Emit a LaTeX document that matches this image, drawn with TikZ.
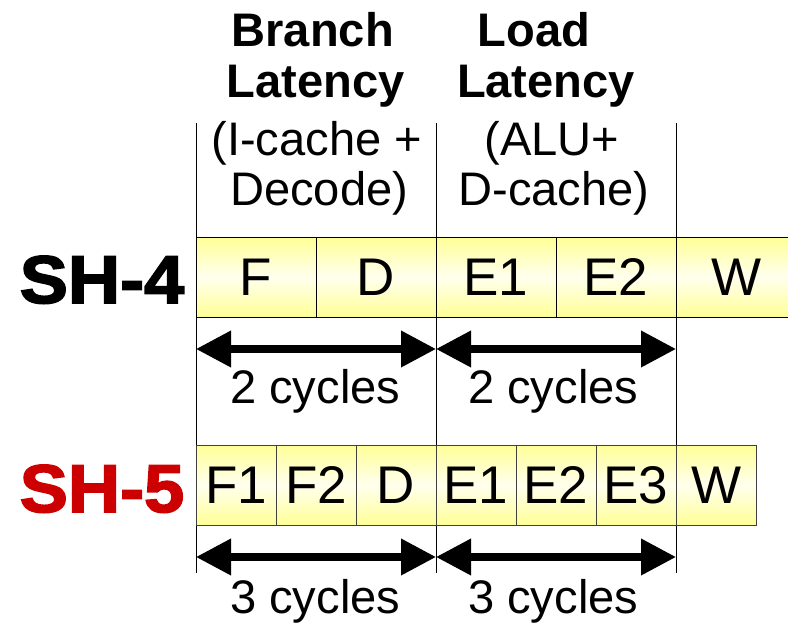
\documentclass[tikz,border=0pt]{standalone}
\usepackage{fontspec}
\setmainfont{Liberation Sans}
\newfontfamily\heavyfont[FakeBold=2.5,FakeStretch=1.07]{Liberation Sans Bold}
\usetikzlibrary{arrows.meta}
\definecolor{stageyellow}{RGB}{255,255,150}
\definecolor{stagelight}{RGB}{255,255,238}
\definecolor{shred}{RGB}{204,0,0}

\newcommand{\rowa}{7.65}
\newcommand{\rowb}{2.45}

\begin{document}
\begin{tikzpicture}[
  stage/.style={draw, line width=0.6pt, top color=stageyellow, bottom color=stageyellow,
    middle color=stagelight, minimum height=2cm, inner sep=0pt, outer sep=0pt,
    anchor=south west, font=\fontsize{37.7}{40}\selectfont},
  oldstage/.style={stage, minimum width=3cm},
  newstage/.style={stage, minimum width=2cm, draw=black!75},
  guide/.style={line width=0.6pt},
  span/.style={{Triangle[length=8.75mm, width=8.75mm]}-{Triangle[length=8.75mm, width=8.75mm]}, line width=5pt},
  cyc/.style={anchor=base, inner sep=0pt, font=\fontsize{33.5}{36}\selectfont},
  head/.style={anchor=base, inner sep=0pt, font=\fontsize{33.5}{36}\selectfont\bfseries},
  sub/.style={anchor=base, inner sep=0pt, font=\fontsize{33.5}{36}\selectfont},
  core/.style={anchor=base, inner sep=0pt, font=\heavyfont\fontsize{48}{50}\selectfont}]
  \clip (0,0) rectangle (19.7,15.575);

  % column guides
  \coordinate (ltop) at (4.9,12.5);  \coordinate (lbot) at (4.9,1.25);
  \coordinate (mtop) at (10.9,12.5); \coordinate (mbot) at (10.9,1.25);
  \coordinate (rtop) at (16.9,12.5); \coordinate (rbot) at (16.9,1.25);
  \draw[guide] (ltop) -- (lbot);
  \draw[guide] (mtop) -- (mbot);
  \draw[guide] (rtop) -- (rbot);

  % headings
  \node[head] (branch) at (7.82,14.4) {Branch};
  \node[head] (branchlat) at (7.89,13.15) {Latency};
  \node[sub] (branchic) at (7.92,11.7) {(I-cache +};
  \node[sub] (branchdec) at (7.98,10.45) {Decode)};
  \node[head] (load) at (13.35,14.4) {Load};
  \node[head] (loadlat) at (13.65,13.15) {Latency};
  \node[sub] (loadalu) at (13.8,11.7) {(ALU+};
  \node[sub] (loaddc) at (13.85,10.45) {D-cache)};

  % SH-4
  \node[core] (sh4) at (2.55,8.0) {SH-4};
  \node[oldstage] (f4) at (4.9,\rowa) {F};
  \node[oldstage] (d4) at (7.9,\rowa) {D};
  \node[oldstage] (ea4) at (10.9,\rowa) {E1};
  \node[oldstage] (eb4) at (13.9,\rowa) {E2};
  \node[oldstage] (w4) at (16.9,\rowa) {W};
  \coordinate (l4) at (4.9,6.85);
  \coordinate (m4) at (10.9,6.85);
  \coordinate (r4) at (16.9,6.85);
  \draw[span] (l4) -- (m4);
  \draw[span] (m4) -- (r4);
  \node[cyc] (twoa) at (7.88,5.5) {2 cycles};
  \node[cyc] (twob) at (13.83,5.5) {2 cycles};

  % SH-5
  \node[core, text=shred] (sh5) at (2.55,2.775) {SH-5};
  \node[newstage] (fa5) at (4.9,\rowb) {F1};
  \node[newstage] (fb5) at (6.9,\rowb) {F2};
  \node[newstage] (d5) at (8.9,\rowb) {D};
  \node[newstage] (ea5) at (10.9,\rowb) {E1};
  \node[newstage] (eb5) at (12.9,\rowb) {E2};
  \node[newstage] (ec5) at (14.9,\rowb) {E3};
  \node[newstage] (w5) at (16.9,\rowb) {W};
  \coordinate (l5) at (4.9,1.65);
  \coordinate (m5) at (10.9,1.65);
  \coordinate (r5) at (16.9,1.65);
  \draw[span] (l5) -- (m5);
  \draw[span] (m5) -- (r5);
  \node[cyc] (threea) at (7.88,0.25) {3 cycles};
  \node[cyc] (threeb) at (13.83,0.25) {3 cycles};
\end{tikzpicture}
\end{document}
